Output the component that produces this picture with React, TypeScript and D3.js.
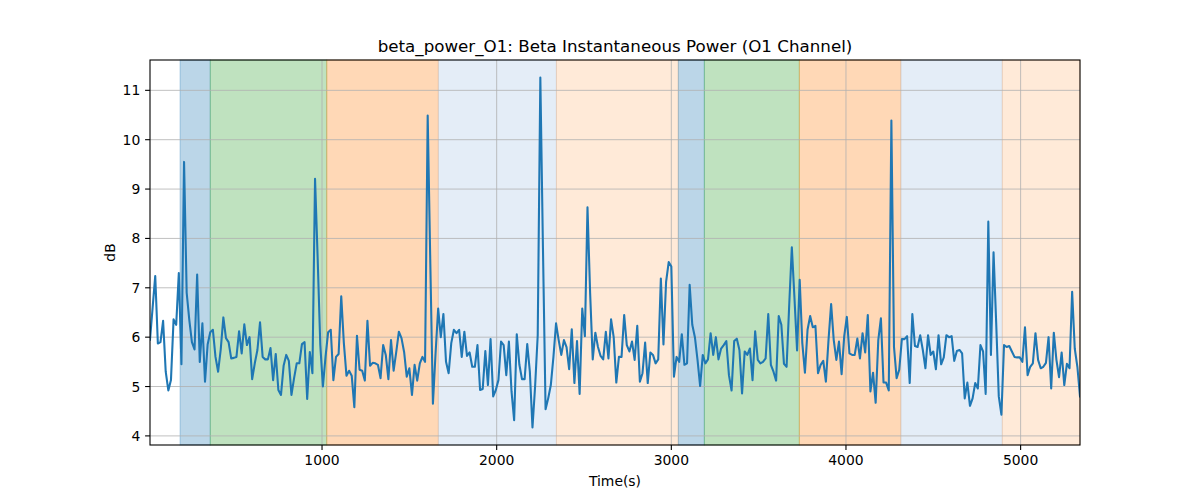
import { useEffect, useRef } from 'react';
import * as d3 from 'd3';

// sampling step of the recording, seconds
const timeStep = 15;

// beta power in dB, one value per sample
const betaPower: number[] = [
  5.95, 6.6, 7.24, 5.87, 5.9, 6.33, 5.3, 4.92, 5.13, 6.36,
  6.25, 7.3, 5.45, 9.55, 6.9, 6.35, 5.9, 5.75, 7.27, 5.5,
  6.28, 5.1, 5.85, 6.1, 6.15, 5.6, 5.3, 5.75, 6.4, 5.98,
  5.9, 5.57, 5.58, 5.6, 6.12, 5.67, 6.26, 5.84, 6.0, 5.15,
  5.47, 5.74, 6.3, 5.6, 5.55, 5.55, 5.78, 5.13, 5.66, 4.93,
  4.83, 5.42, 5.64, 5.52, 4.83, 5.17, 5.47, 5.47, 5.86, 5.9,
  4.75, 5.7, 5.27, 9.21, 7.6, 5.85, 5.0, 5.6, 6.1, 6.15,
  5.13, 5.6, 5.66, 6.83, 5.88, 5.22, 5.32, 5.22, 4.58, 6.03,
  5.34, 5.32, 5.12, 6.33, 5.42, 5.48, 5.47, 5.44, 5.17, 5.84,
  5.64, 5.15, 5.94, 5.32, 5.7, 6.11, 5.98, 5.7, 5.2, 5.37,
  4.83, 5.44, 5.12, 5.47, 5.6, 5.5, 10.49, 7.5, 4.65, 5.67,
  6.58, 6.0, 6.47, 5.5, 5.27, 5.88, 6.15, 6.08, 6.15, 5.6,
  6.11, 5.62, 5.69, 5.4, 5.4, 5.84, 4.93, 4.95, 5.72, 5.03,
  5.96, 4.8, 4.93, 5.13, 5.91, 5.84, 5.23, 5.91, 4.9, 4.32,
  6.06, 5.44, 5.15, 5.15, 5.86, 5.3, 4.17, 5.0, 6.04, 11.26,
  7.8, 4.54, 4.76, 5.03, 5.6, 6.28, 5.94, 5.64, 5.94, 5.8,
  5.35, 6.16, 5.07, 5.92, 4.85, 6.58, 6.02, 8.63, 6.9, 5.55,
  6.09, 5.8, 5.62, 5.55, 6.11, 5.57, 6.36, 6.0, 5.08, 5.6,
  5.6, 6.45, 5.84, 5.71, 5.91, 5.54, 6.23, 5.1, 5.27, 5.89,
  5.07, 5.69, 5.64, 5.47, 5.55, 7.19, 5.85, 7.12, 7.52, 7.43,
  5.2, 5.6, 5.5, 6.06, 5.44, 5.47, 7.06, 6.25, 6.0, 5.54,
  5.01, 5.64, 5.47, 5.55, 6.08, 5.64, 6.0, 5.55, 5.77, 5.84,
  5.92, 5.23, 4.92, 5.92, 5.97, 5.74, 4.86, 5.71, 5.64, 5.77,
  5.13, 6.12, 5.54, 5.47, 5.5, 5.57, 6.47, 5.44, 5.3, 5.12,
  6.43, 6.25, 5.46, 5.4, 6.65, 7.82, 6.8, 5.73, 7.16, 5.88,
  5.28, 6.15, 6.43, 6.2, 6.23, 5.27, 5.44, 5.52, 5.1, 5.94,
  6.67, 5.94, 5.54, 5.91, 5.25, 6.02, 6.41, 5.67, 5.64, 5.64,
  5.97, 5.57, 6.08, 5.69, 6.45, 4.9, 5.28, 4.67, 5.94, 6.38,
  5.08, 5.08, 4.92, 10.39, 5.8, 5.17, 5.34, 5.96, 5.96, 6.02,
  5.07, 6.47, 5.82, 5.8, 6.04, 5.74, 5.37, 6.04, 5.64, 5.71,
  5.35, 6.04, 5.45, 5.59, 6.04, 6.0, 6.02, 5.52, 5.72, 5.74,
  5.67, 4.76, 5.08, 4.61, 4.76, 5.07, 4.96, 5.84, 5.71, 4.85,
  8.34, 5.64, 7.72, 6.3, 4.8, 4.43, 5.84, 5.8, 5.82, 5.71,
  5.6, 5.59, 5.59, 5.5, 6.2, 5.23, 5.4, 5.47, 6.08, 5.54,
  5.37, 5.4, 5.48, 6.0, 4.96, 6.09, 5.54, 5.19, 5.69, 5.03,
  5.46, 5.37, 6.92, 5.77, 5.4, 4.8,
];

// stage spans (seconds) drawn behind the trace
const spanStarts = [187, 360, 1027, 1666, 2342, 3040, 3189, 3733, 4314, 4895];
const spanEnds = [360, 1027, 1666, 2342, 3040, 3189, 3733, 4314, 4895, 5340];
const spanColors = ['#1f77b4', '#2ca02c', '#ff7f0e', '#aec7e8', '#ff7f0e', '#1f77b4', '#2ca02c', '#ff7f0e', '#aec7e8', '#ff7f0e'];
const spanAlphas = [0.3, 0.3, 0.3, 0.33, 0.16, 0.3, 0.3, 0.3, 0.33, 0.16];

const xTicks = [1000, 2000, 3000, 4000, 5000];
const yTicks = [4, 5, 6, 7, 8, 9, 10, 11];

const App = () => {
  const svgRef = useRef<SVGSVGElement>(null);

  useEffect(() => {
    if (!svgRef.current) return;

    const svg = d3.select(svgRef.current);
    svg.selectAll('*').remove();

    const width = 1200;
    const height = 500;
    const left = 150;
    const right = 1080;
    const top = 60;
    const bottom = 445;
    const font = 'DejaVu Sans, sans-serif';

    const points = betaPower.map((v, i) => ({ t: (i + 1) * timeStep, v }));

    const tMin = d3.min(points, d => d.t) as number;
    const tMax = d3.max(points, d => d.t) as number;
    const vMin = d3.min(betaPower) as number;
    const vMax = d3.max(betaPower) as number;
    const pad = (vMax - vMin) * 0.05;

    const x = d3.scaleLinear().domain([tMin, tMax]).range([left, right]);
    const y = d3.scaleLinear().domain([vMin - pad, vMax + pad]).range([bottom, top]);

    svg.append('rect')
      .attr('width', width)
      .attr('height', height)
      .attr('fill', 'white');

    // stage spans
    spanStarts.forEach((s, i) => {
      svg.append('rect')
        .attr('x', x(s))
        .attr('y', top)
        .attr('width', x(spanEnds[i]) - x(s))
        .attr('height', bottom - top)
        .attr('fill', spanColors[i])
        .attr('fill-opacity', spanAlphas[i])
        .attr('stroke', spanColors[i])
        .attr('stroke-opacity', spanAlphas[i])
        .attr('stroke-width', 1);
    });

    // grid
    const grid = svg.append('g')
      .attr('stroke', '#b0b0b0')
      .attr('stroke-width', 0.8);
    xTicks.forEach(t => {
      grid.append('line')
        .attr('x1', x(t)).attr('x2', x(t))
        .attr('y1', top).attr('y2', bottom);
    });
    yTicks.forEach(t => {
      grid.append('line')
        .attr('x1', left).attr('x2', right)
        .attr('y1', y(t)).attr('y2', y(t));
    });

    // trace
    const line = d3.line<{ t: number; v: number }>()
      .x(d => x(d.t))
      .y(d => y(d.v));

    svg.append('defs')
      .append('clipPath')
      .attr('id', 'plot-clip')
      .append('rect')
      .attr('x', left)
      .attr('y', top)
      .attr('width', right - left)
      .attr('height', bottom - top);

    svg.append('path')
      .datum(points)
      .attr('clip-path', 'url(#plot-clip)')
      .attr('d', line)
      .attr('fill', 'none')
      .attr('stroke', '#1f77b4')
      .attr('stroke-width', 2.08)
      .attr('stroke-linejoin', 'round')
      .attr('stroke-linecap', 'square');

    // frame
    svg.append('rect')
      .attr('x', left)
      .attr('y', top)
      .attr('width', right - left)
      .attr('height', bottom - top)
      .attr('fill', 'none')
      .attr('stroke', 'black')
      .attr('stroke-width', 1.1);

    // x axis ticks
    xTicks.forEach(t => {
      svg.append('line')
        .attr('x1', x(t)).attr('x2', x(t))
        .attr('y1', bottom).attr('y2', bottom + 4.9)
        .attr('stroke', 'black')
        .attr('stroke-width', 1.1);
      svg.append('text')
        .attr('x', x(t))
        .attr('y', bottom + 9.7)
        .attr('dominant-baseline', 'hanging')
        .attr('text-anchor', 'middle')
        .attr('font-family', font)
        .attr('font-size', '13.9px')
        .text(t.toString());
    });

    // y axis ticks
    yTicks.forEach(t => {
      svg.append('line')
        .attr('x1', left - 4.9).attr('x2', left)
        .attr('y1', y(t)).attr('y2', y(t))
        .attr('stroke', 'black')
        .attr('stroke-width', 1.1);
      svg.append('text')
        .attr('x', left - 9.7)
        .attr('y', y(t))
        .attr('dominant-baseline', 'central')
        .attr('text-anchor', 'end')
        .attr('font-family', font)
        .attr('font-size', '13.9px')
        .text(t.toString());
    });

    svg.append('text')
      .attr('x', (left + right) / 2)
      .attr('y', 486)
      .attr('text-anchor', 'middle')
      .attr('font-family', font)
      .attr('font-size', '13.9px')
      .text('Time(s)');

    svg.append('text')
      .attr('transform', `translate(115, ${(top + bottom) / 2}) rotate(-90)`)
      .attr('text-anchor', 'middle')
      .attr('font-family', font)
      .attr('font-size', '13.9px')
      .text('dB');

    svg.append('text')
      .attr('x', (left + right) / 2)
      .attr('y', 52)
      .attr('text-anchor', 'middle')
      .attr('font-family', font)
      .attr('font-size', '16.7px')
      .text('beta_power_O1: Beta Instantaneous Power (O1 Channel)');
  }, []);

  return (
    <svg
      ref={svgRef}
      width="1200"
      height="500"
      style={{ position: 'absolute', left: 0, top: 0 }}
    />
  );
};

export default App;
